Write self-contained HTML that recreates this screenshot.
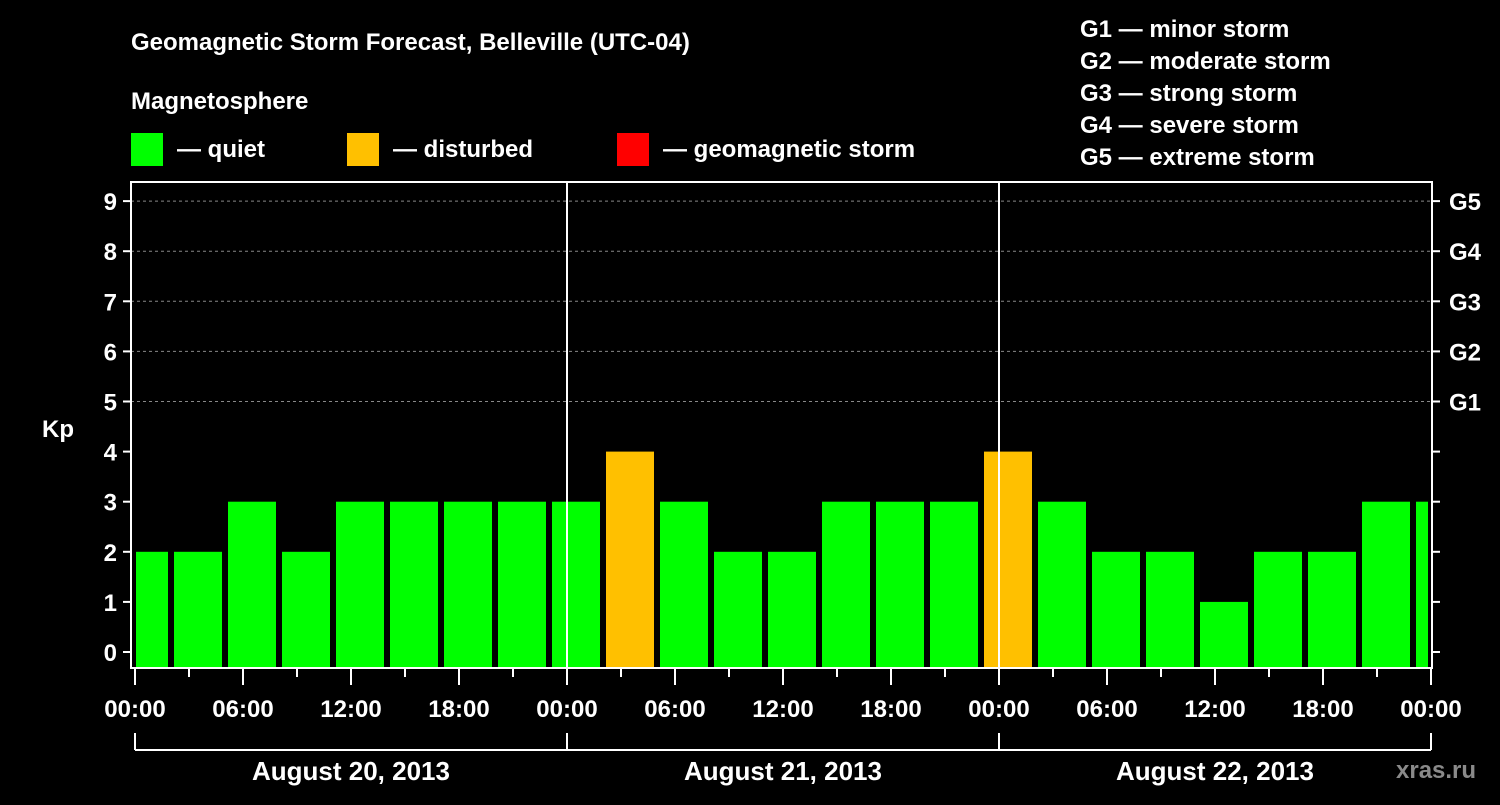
<!DOCTYPE html>
<html><head><meta charset="utf-8"><style>
body{margin:0;background:#000;width:1500px;height:800px;overflow:hidden}
svg text{font-family:"Liberation Sans",Arial,sans-serif;font-weight:bold;fill:#fff}
</style></head><body>
<svg id="c" width="1500" height="800">
<text x="131" y="50" font-size="24">Geomagnetic Storm Forecast, Belleville (UTC-04)</text>
<text x="131" y="109" font-size="24">Magnetosphere</text>
<rect x="131" y="133" width="32" height="33" fill="#00ff00"/>
<text x="177" y="157" font-size="24">— quiet</text>
<rect x="347" y="133" width="32" height="33" fill="#ffc000"/>
<text x="393" y="157" font-size="24">— disturbed</text>
<rect x="617" y="133" width="32" height="33" fill="#ff0000"/>
<text x="663" y="157" font-size="24">— geomagnetic storm</text>
<g font-size="24">
<text x="1080" y="37">G1 — minor storm</text>
<text x="1080" y="69">G2 — moderate storm</text>
<text x="1080" y="101">G3 — strong storm</text>
<text x="1080" y="133">G4 — severe storm</text>
<text x="1080" y="165">G5 — extreme storm</text>
</g>
<text x="42" y="437" font-size="24">Kp</text>
<text x="1396" y="778" font-size="24" fill="#888" style="fill:#8a8a8a">xras.ru</text>
<g id="grid"></g><g id="bars"></g><g id="axes"></g>
</svg>
<script>
const kpValues=[2,2,3,2,3,3,3,3,3,4,3,2,2,3,3,3,4,3,2,2,1,2,2,3,3];
const barStartHours=[-1,2,5,8,11,14,17,20,23,26,29,32,35,38,41,44,47,50,53,56,59,62,65,68,71];
const timeTicks=["00:00","06:00","12:00","18:00","00:00","06:00","12:00","18:00","00:00","06:00","12:00","18:00","00:00"];
const dayLabels=["August 20, 2013","August 21, 2013","August 22, 2013"];
const yTicks=[0,1,2,3,4,5,6,7,8,9];
const gLabels=["G1","G2","G3","G4","G5"];
const NS="http://www.w3.org/2000/svg";
const X0=135,PXH=18,Y0=652,PXK=50.1,TOP=182,BOT=668,L=131,R=1432;
const xs=h=>X0+h*PXH, ys=k=>Y0-k*PXK;
function mk(tag,at,parent,txt){const e=document.createElementNS(NS,tag);for(const k in at)e.setAttribute(k,at[k]);if(txt!==undefined)e.textContent=txt;document.getElementById(parent).appendChild(e);return e;}
const col=k=>k>=5?"#ff0000":k>=4?"#ffc000":"#00ff00";
// grid
yTicks.forEach(k=>{if(k>=5){const l=mk("line",{x1:L,x2:R,y1:ys(k),y2:ys(k),stroke:"#888","stroke-dasharray":"3,3"},"grid");

}});
// bars
kpValues.forEach((v,i)=>{const s=Math.max(0,barStartHours[i]),e=Math.min(72,barStartHours[i]+3);
const x1=s===0?xs(0)+1:xs(s)+3,x2=xs(e)-3;
const r=mk("rect",{x:x1,y:ys(v),width:x2-x1,height:BOT-1-ys(v),fill:col(v)},"bars");

});
// axes frame
const fr=mk("rect",{x:L,y:TOP,width:R-L,height:BOT-TOP,fill:"none",stroke:"#fff","stroke-width":2},"axes");


[24,48].forEach(h=>{const l=mk("line",{x1:xs(h),x2:xs(h),y1:TOP,y2:BOT,stroke:"#fff","stroke-width":2},"axes");

});
yTicks.forEach(k=>{mk("line",{x1:L-8,x2:L,y1:ys(k),y2:ys(k),stroke:"#fff","stroke-width":2},"axes");
mk("line",{x1:R,x2:R+8,y1:ys(k),y2:ys(k),stroke:"#fff","stroke-width":2},"axes");
const t=mk("text",{x:L-14,y:ys(k)+9,"font-size":24,"text-anchor":"end"},"axes",String(k));


if(k>=5){const g=mk("text",{x:R+17,y:ys(k)+9,"font-size":24},"axes",gLabels[k-5]);

}});
for(let h=0;h<=72;h+=3){mk("line",{x1:xs(h),x2:xs(h),y1:BOT,y2:BOT+(h%6?9:17),stroke:"#fff","stroke-width":2},"axes");}
timeTicks.forEach((s,i)=>{const t=mk("text",{x:xs(i*6),y:717,"font-size":24,"text-anchor":"middle"},"axes",s);

});
mk("line",{x1:xs(0),x2:xs(72),y1:750,y2:750,stroke:"#fff","stroke-width":2},"axes");
[0,24,48,72].forEach(h=>mk("line",{x1:xs(h),x2:xs(h),y1:733,y2:750,stroke:"#fff","stroke-width":2},"axes"));
dayLabels.forEach((d,i)=>{const t=mk("text",{x:xs(i*24+12),y:780,"font-size":26,"text-anchor":"middle"},"axes",d);

});
</script>
</body></html>
